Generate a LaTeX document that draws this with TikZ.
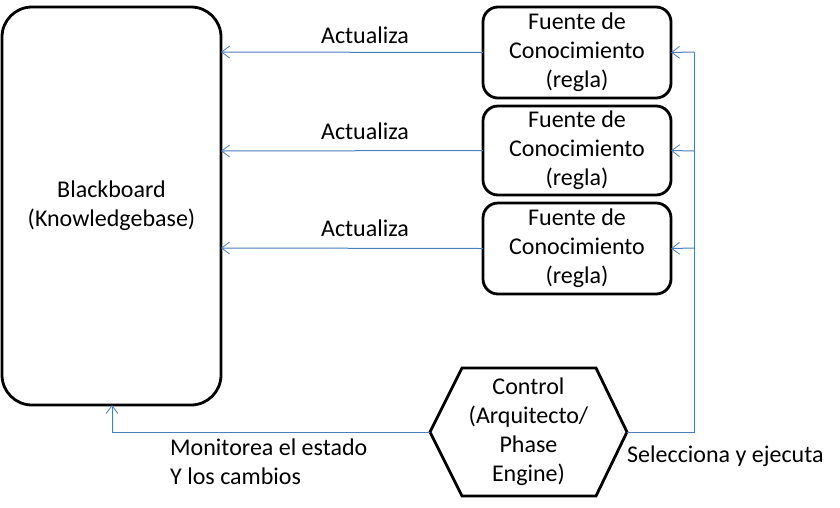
\documentclass[tikz,border=0pt]{standalone}
\usepackage{fontspec}
\setmainfont{Carlito}
\usetikzlibrary{arrows.meta,shapes.geometric}
\definecolor{conn}{HTML}{4A7EBB}
\begin{document}
\begin{tikzpicture}[x=1pt,y=-1pt,
  box/.style={draw=black,line width=2.8pt,rounded corners=#1},
  lbl/.style={font=\fontsize{24}{29}\selectfont,align=center,inner sep=0pt},
  conn/.style={draw=conn,line width=1pt,-{Straight Barb[length=8pt,width=12pt,line width=0.8pt]}}]
\useasboundingbox (0,0) rectangle (840,507);
\draw[box=30pt] (2,7) rectangle (221,405);
\coordinate (bbR1) at (221,52);
\coordinate (bbR2) at (221,151);
\coordinate (bbR3) at (221,248);
\coordinate (bbB) at (112,405);
\node[lbl] (bb) at (111.5,206) {Blackboard\\(Knowledgebase)};
\foreach \i/\t/\b in {1/7/98,2/106/195,3/203/294}{
  \draw[box=15pt] (483,\t) rectangle (671,\b);
  \node[lbl] (f\i) at (577,{(\t+\b)/2}) {Fuente de\\Conocimiento\\(regla)};
  \coordinate (fL\i) at (483,{(\t+\b)/2});
  \coordinate (fR\i) at (671,{(\t+\b)/2});
}
\draw[line width=2.8pt,line join=miter] (462,368) -- (596,368) -- (627,432) -- (596,496) -- (462,496) -- (430,432) -- cycle;
\node[lbl] (ctrl) at (528.5,432) {Control\\(Arquitecto/\\Phase\\Engine)};
\coordinate (cL) at (430,432);
\coordinate (cR) at (627,432);
\coordinate (vb) at (694,432);
\coordinate (vt) at (694,52);
\foreach \i in {1,2,3}{
  \draw[conn] (fL\i) -- (bbR\i);
}
\node[lbl] (a1) at (365,35) {Actualiza};
\node[lbl] (a2) at (365,131) {Actualiza};
\node[lbl] (a3) at (365,228) {Actualiza};
\draw[draw=conn,line width=1pt] (cR) -- (vb) -- (vt);
\draw[conn] (vt) -- (fR1);
\draw[conn] (694,151) -- (fR2);
\draw[conn] (694,248) -- (fR3);
\draw[conn] (cL) -| (bbB);
\node[lbl,align=left,anchor=west] (mon) at (170,447) {Monitorea el estado};
\node[lbl,align=left,anchor=west] (mon2) at (170,476) {Y los cambios};
\node[lbl,anchor=west] (sel) at (627,456) {Selecciona y ejecuta};
\end{tikzpicture}
\end{document}
